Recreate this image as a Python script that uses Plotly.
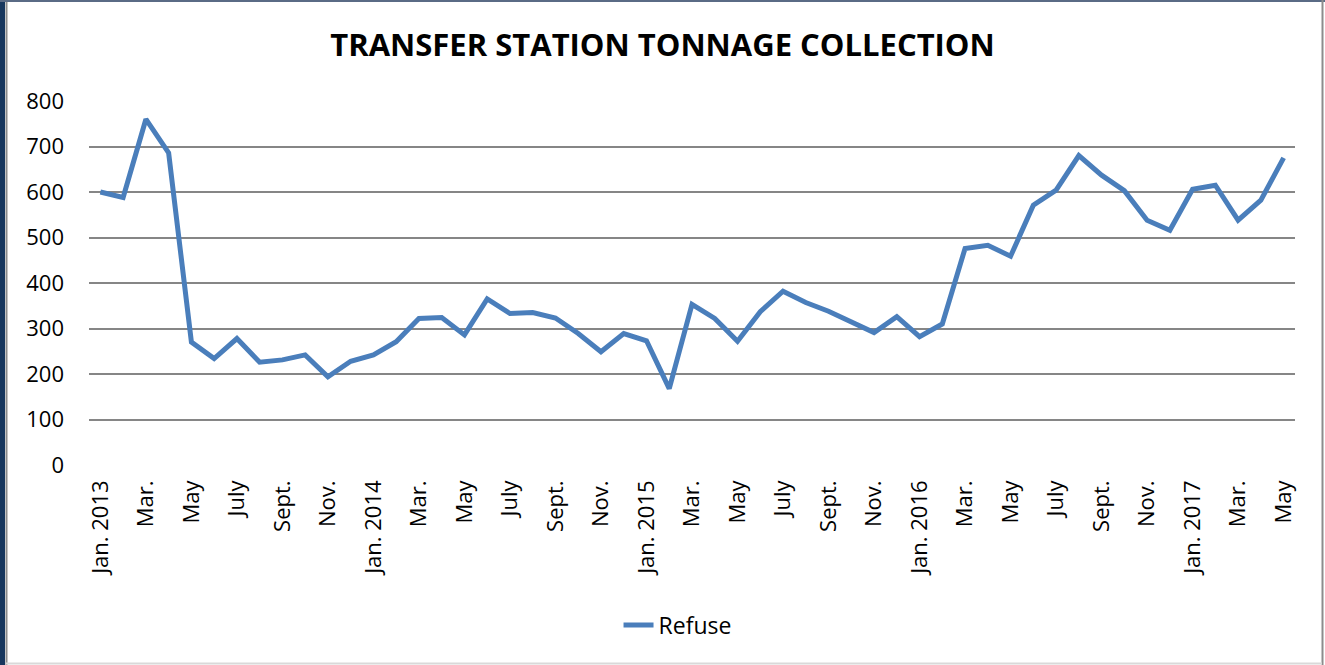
import plotly.graph_objects as go

# Monthly refuse tonnage, Jan. 2013 through May 2017
months = [
    "Jan. 2013", "Feb.", "Mar.", "Apr.", "May", "June", "July", "Aug.", "Sept.", "Oct.", "Nov.", "Dec.",
    "Jan. 2014", "Feb.", "Mar.", "Apr.", "May", "June", "July", "Aug.", "Sept.", "Oct.", "Nov.", "Dec.",
    "Jan. 2015", "Feb.", "Mar.", "Apr.", "May", "June", "July", "Aug.", "Sept.", "Oct.", "Nov.", "Dec.",
    "Jan. 2016", "Feb.", "Mar.", "Apr.", "May", "June", "July", "Aug.", "Sept.", "Oct.", "Nov.", "Dec.",
    "Jan. 2017", "Feb.", "Mar.", "Apr.", "May",
]
refuse = [
    600, 588, 760, 686, 270, 234, 278, 226, 231, 242, 194, 228,
    242, 271, 322, 324, 286, 365, 333, 335, 323, 289, 249, 289,
    273, 168, 353, 322, 272, 337, 382, 357, 338, 314, 291, 326,
    282, 310, 476, 483, 459, 571, 604, 680, 637, 603, 538, 516,
    606, 615, 538, 582, 675,
]
y_ticks = [0, 100, 200, 300, 400, 500, 600, 700, 800]

W, H = 1325, 665
L, R, T, B = 89, 30, 101, 200
FONT = "Open Sans"

idx = list(range(len(months)))
tick_idx = idx[::2]
tick_txt = [months[i] for i in tick_idx]

fig = go.Figure()
fig.add_trace(go.Scatter(
    x=idx, y=refuse, mode="lines", name="Refuse",
    line=dict(color="#4a7ebb", width=5),
))


def px_x(p):
    return (p - L) / (W - L - R)


def px_y(p):
    return (H - B - p) / (H - T - B)


# Frame around the chart area
shapes = [
    dict(type="rect", xref="paper", yref="paper",
         x0=px_x(0), x1=px_x(5), y0=px_y(665), y1=px_y(0),
         fillcolor="#17375e", line=dict(width=0), layer="above"),
    dict(type="line", xref="paper", yref="paper",
         x0=px_x(6.5), x1=px_x(6.5), y0=px_y(665), y1=px_y(0),
         line=dict(color="#8c8c8c", width=2), layer="above"),
    dict(type="line", xref="paper", yref="paper",
         x0=px_x(0), x1=px_x(1325), y0=px_y(1), y1=px_y(1),
         line=dict(color="#5a6b85", width=2), layer="above"),
    dict(type="line", xref="paper", yref="paper",
         x0=px_x(1322.5), x1=px_x(1322.5), y0=px_y(665), y1=px_y(0),
         line=dict(color="#8c8c8c", width=2), layer="above"),
    dict(type="line", xref="paper", yref="paper",
         x0=px_x(6), x1=px_x(1322), y0=px_y(663.5), y1=px_y(663.5),
         line=dict(color="#d9d9d9", width=2), layer="above"),
]

fig.update_layout(
    width=W, height=H,
    margin=dict(l=L, r=R, t=T, b=B, pad=0),
    paper_bgcolor="white", plot_bgcolor="white",
    font=dict(family=FONT, color="black"),
    title=dict(text="<b>TRANSFER STATION TONNAGE COLLECTION</b>",
               x=0.5, xref="container", xanchor="center",
               y=1 - 45 / H, yref="container", yanchor="middle",
               font=dict(family=FONT, size=31, color="black")),
    xaxis=dict(range=[-0.5, len(months) - 0.5], tickmode="array",
               tickvals=tick_idx, ticktext=tick_txt, tickangle=-90,
               showgrid=False, zeroline=False, showline=False,
               ticks="", tickfont=dict(size=22, family=FONT),
               ticklabelstandoff=10),
    yaxis=dict(range=[0, 800], tickmode="array", tickvals=y_ticks,
               showgrid=True, gridcolor="#868686", gridwidth=1.5,
               zeroline=False, showline=False, ticks="",
               tickfont=dict(size=22, family=FONT),
               ticklabelstandoff=24),
    showlegend=True,
    legend=dict(orientation="h", x=0.488, xanchor="center",
                y=px_y(625), yanchor="middle",
                font=dict(size=23, family=FONT)),
    shapes=shapes,
)

fig.write_html("out.html")
